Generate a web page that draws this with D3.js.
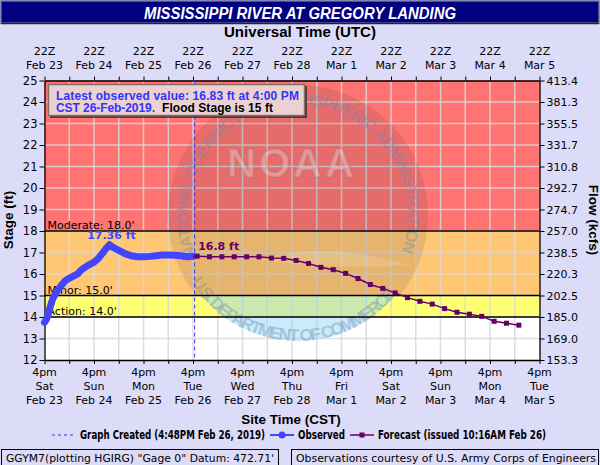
<!DOCTYPE html>
<html>
<head>
<meta charset="utf-8">
<script src="https://cdn.jsdelivr.net/npm/d3@7"></script>
<style>
  body { margin: 0; background: #dcdcf8; }
  svg { display: block; font-family: "DejaVu Sans", Verdana, sans-serif; }
</style>
</head>
<body>
<svg id="chart" width="600" height="465"></svg>
<script>
// observed stage (ft), CST
const obsTimes = [
  "2019-02-23 16:00", "2019-02-23 17:00", "2019-02-23 18:00", "2019-02-23 19:00", "2019-02-23 20:00",
  "2019-02-23 22:00", "2019-02-24 00:00", "2019-02-24 02:00", "2019-02-24 04:00", "2019-02-24 06:00",
  "2019-02-24 08:00", "2019-02-24 10:00", "2019-02-24 12:00", "2019-02-24 14:00", "2019-02-24 16:00",
  "2019-02-24 18:00", "2019-02-24 20:00", "2019-02-24 22:00", "2019-02-24 23:30", "2019-02-25 01:00",
  "2019-02-25 04:00", "2019-02-25 07:00", "2019-02-25 10:00", "2019-02-25 13:00", "2019-02-25 16:00",
  "2019-02-25 19:00", "2019-02-25 22:00", "2019-02-26 01:00", "2019-02-26 04:00", "2019-02-26 07:00",
  "2019-02-26 10:00", "2019-02-26 13:00", "2019-02-26 16:00"
];
const obsStage = [
  13.75, 13.9, 14.2, 14.55, 14.85,
  15.2, 15.45, 15.68, 15.8, 15.9,
  16.0, 16.2, 16.33, 16.45, 16.55,
  16.72, 16.95, 17.2, 17.36, 17.25,
  17.1, 16.95, 16.85, 16.8, 16.8,
  16.82, 16.85, 16.88, 16.88, 16.87,
  16.85, 16.8, 16.83
];

// forecast issued 10:16AM Feb 26
const fcstTimes = [
  "2019-02-26 18:00", "2019-02-27 00:00", "2019-02-27 06:00", "2019-02-27 12:00", "2019-02-27 18:00",
  "2019-02-28 00:00", "2019-02-28 06:00", "2019-02-28 12:00", "2019-02-28 18:00", "2019-03-01 00:00",
  "2019-03-01 06:00", "2019-03-01 12:00", "2019-03-01 18:00", "2019-03-02 00:00", "2019-03-02 06:00",
  "2019-03-02 12:00", "2019-03-02 18:00", "2019-03-03 00:00", "2019-03-03 06:00", "2019-03-03 12:00",
  "2019-03-03 18:00", "2019-03-04 00:00", "2019-03-04 06:00", "2019-03-04 12:00", "2019-03-04 18:00",
  "2019-03-05 00:00", "2019-03-05 06:00"
];
const fcstStage = [
  16.83, 16.8, 16.8, 16.8, 16.8,
  16.8, 16.74, 16.73, 16.63, 16.49,
  16.31, 16.2, 16.03, 15.79, 15.51,
  15.33, 15.12, 14.9, 14.73, 14.6,
  14.39, 14.22, 14.13, 14.03, 13.8,
  13.71, 13.62
];

const stageTicks = [12, 13, 14, 15, 16, 17, 18, 19, 20, 21, 22, 23, 24, 25];
const flowLabels = ["153.3", "169.0", "185.0", "202.5", "220.3", "238.5", "257.0",
                    "274.7", "292.7", "310.8", "331.7", "355.5", "381.3", "413.4"];

const dayTimes = ["2019-02-23 16:00", "2019-02-24 16:00", "2019-02-25 16:00", "2019-02-26 16:00",
  "2019-02-27 16:00", "2019-02-28 16:00", "2019-03-01 16:00", "2019-03-02 16:00",
  "2019-03-03 16:00", "2019-03-04 16:00", "2019-03-05 16:00"];
const dayNames = ["Sat", "Sun", "Mon", "Tue", "Wed", "Thu", "Fri", "Sat", "Sun", "Mon", "Tue"];
const dateLabels = ["Feb 23", "Feb 24", "Feb 25", "Feb 26", "Feb 27", "Feb 28",
                    "Mar 1", "Mar 2", "Mar 3", "Mar 4", "Mar 5"];

// flood categories: [name, from, to, colour]
const zones = [
  ["", 12, 14, "#ffffff"],
  ["Action", 14, 15, "#ffff73"],
  ["Minor", 15, 18, "#ffc673"],
  ["Moderate", 18, 25, "#ff7373"],
];

const parse = d3.timeParse("%Y-%m-%d %H:%M");
const obs = obsTimes.map((t, i) => [parse(t), obsStage[i]]);
const fcst = fcstTimes.map((t, i) => [parse(t), fcstStage[i]]);
const days = dayTimes.map(parse);
const created = parse("2019-02-26 16:48");

const svg = d3.select("#chart");
const L = 44.5, R = 539.5, T = 80.5, B = 360;
const boldFont = "Liberation Sans, Arial, sans-serif";

const x = d3.scaleTime().domain([days[0], days[days.length - 1]]).range([L, R]);
const y = d3.scaleLinear().domain([12, 25]).range([B, T]);

// 12 hour ticks (4pm / 4am)
const halfDays = d3.timeHour.every(1).range(days[0], d3.timeHour.offset(days[days.length - 1], 1))
  .filter(d => d.getHours() === 16 || d.getHours() === 4);

// title bar
svg.append("rect").attr("x", 1).attr("y", 1).attr("width", 598).attr("height", 22)
  .attr("fill", "#000080").attr("stroke", "#6a6a9a").attr("stroke-width", 1.5);
svg.append("line").attr("x1", 1).attr("x2", 599).attr("y1", 23.5).attr("y2", 23.5)
  .attr("stroke", "#202040").attr("stroke-width", 1.5);
svg.append("text").attr("x", 300).attr("y", 18.5).attr("text-anchor", "middle")
  .attr("fill", "#fff").attr("font-family", boldFont)
  .attr("font-weight", "bold").attr("font-style", "italic").attr("font-size", 16)
  .attr("textLength", 312).attr("lengthAdjust", "spacingAndGlyphs")
  .text("MISSISSIPPI RIVER AT GREGORY LANDING");

svg.append("text").attr("x", 300).attr("y", 37).attr("text-anchor", "middle")
  .attr("font-family", boldFont).attr("font-weight", "bold")
  .attr("font-size", 14).attr("textLength", 152).attr("lengthAdjust", "spacingAndGlyphs")
  .text("Universal Time (UTC)");

// flood zones
const plot = svg.append("g");
plot.selectAll("rect.zone").data(zones).join("rect").attr("class", "zone")
  .attr("x", L).attr("width", R - L)
  .attr("y", d => y(d[2])).attr("height", d => y(d[1]) - y(d[2]))
  .attr("fill", d => d[3]);

// grid
const grid = plot.append("g").attr("stroke", "#d8d8d8").attr("stroke-opacity", 0.85).attr("stroke-width", 1.5);
grid.selectAll("line.v").data(halfDays.slice(1, -1)).join("line").attr("class", "v")
  .attr("x1", d => x(d)).attr("x2", d => x(d)).attr("y1", T).attr("y2", B);
grid.selectAll("line.h").data(stageTicks.slice(1, -1)).join("line").attr("class", "h")
  .attr("x1", L).attr("x2", R).attr("y1", d => y(d)).attr("y2", d => y(d));

// NOAA watermark
const cx = 298, cy = 215, rr = 130;
const defs = svg.append("defs");
defs.append("clipPath").attr("id", "top").append("rect")
  .attr("x", 0).attr("y", 0).attr("width", 600).attr("height", y(15));
defs.append("clipPath").attr("id", "sea").append("rect")
  .attr("x", 0).attr("y", y(15)).attr("width", 600).attr("height", B - y(15));
const wm = plot.append("g");
wm.append("circle").attr("cx", cx).attr("cy", cy).attr("r", rr)
  .attr("fill", "#3a3a3a").attr("fill-opacity", 0.13).attr("clip-path", "url(#top)");
wm.append("circle").attr("cx", cx).attr("cy", cy).attr("r", rr - 4)
  .attr("fill", "#8ad2f2").attr("fill-opacity", 0.45).attr("clip-path", "url(#sea)");
// wing highlight
wm.append("path")
  .attr("d", `M${cx - 40},${cy + 45} Q${cx + 30},${cy + 25} ${cx + 110},${cy + 50} Q${cx + 40},${cy + 55} ${cx - 40},${cy + 45}Z`)
  .attr("fill", "#ffffff").attr("fill-opacity", 0.15);
const arc = (r, a0, a1, sweep) => {
  const rad = Math.PI / 180;
  const p0 = [cx + r * Math.cos(a0 * rad), cy + r * Math.sin(a0 * rad)];
  const p1 = [cx + r * Math.cos(a1 * rad), cy + r * Math.sin(a1 * rad)];
  const large = Math.abs(a1 - a0) > 180 ? 1 : 0;
  return `M${p0[0]},${p0[1]} A${r},${r} 0 ${large} ${sweep} ${p1[0]},${p1[1]}`;
};
defs.append("path").attr("id", "ringTop").attr("d", arc(110, 158, 388, 1));
defs.append("path").attr("id", "ringBot").attr("d", arc(126, 148, 32, 0));
const ring = wm.append("g").attr("font-family", boldFont)
  .attr("font-weight", "bold").attr("fill", "#6a88b0").attr("fill-opacity", 0.4);
ring.append("text").attr("font-size", 16).append("textPath").attr("href", "#ringTop")
  .attr("textLength", 425).attr("lengthAdjust", "spacing")
  .text("NATIONAL OCEANIC AND ATMOSPHERIC ADMINISTRATION");
ring.append("text").attr("font-size", 17).append("textPath").attr("href", "#ringBot")
  .attr("textLength", 240).attr("lengthAdjust", "spacing")
  .text("U.S. DEPARTMENT OF COMMERCE");
wm.append("text").attr("x", cx - 6).attr("y", cy - 38).attr("text-anchor", "middle")
  .attr("font-family", boldFont).attr("font-weight", "bold")
  .attr("font-size", 40).attr("letter-spacing", 3)
  .attr("fill", "#ffffff").attr("fill-opacity", 0.3)
  .attr("stroke", "#7a7a7a").attr("stroke-opacity", 0.25).attr("stroke-width", 2)
  .text("NOAA");

// flood category lines and labels
plot.selectAll("line.flood").data(zones.slice(1)).join("line").attr("class", "flood")
  .attr("x1", L).attr("x2", R).attr("y1", d => y(d[1])).attr("y2", d => y(d[1]))
  .attr("stroke", "#000").attr("stroke-width", 1.3);
plot.selectAll("text.flood").data(zones.slice(1)).join("text").attr("class", "flood")
  .attr("x", L + 3).attr("y", d => y(d[1]) - 2).attr("font-size", 11)
  .text(d => `${d[0]}: ${d[1].toFixed(1)}'`);

// axes: ticks from d3, labels placed as plain text
const dropText = g => g.selectAll("text").remove();
svg.append("g").attr("transform", `translate(0,${B})`)
  .call(d3.axisBottom(x).tickValues(halfDays).tickSize(4).tickSizeOuter(0)).call(dropText);
svg.append("g").attr("transform", `translate(0,${T})`)
  .call(d3.axisTop(x).tickValues(halfDays).tickSize(4).tickSizeOuter(0)).call(dropText);
svg.append("g").attr("transform", `translate(${L},0)`)
  .call(d3.axisLeft(y).tickValues(stageTicks).tickSize(5).tickSizeOuter(0)).call(dropText);
svg.append("g").attr("transform", `translate(${R},0)`)
  .call(d3.axisRight(y).tickValues(stageTicks).tickSize(5).tickSizeOuter(0)).call(dropText);
svg.selectAll(".domain").attr("stroke", "#000").attr("stroke-width", 1.3);

const yl = svg.append("g").attr("font-size", 11.5);
yl.selectAll("text.ls").data(stageTicks).join("text").attr("class", "ls")
  .attr("x", L - 7).attr("y", d => y(d) + 4).attr("text-anchor", "end").text(d => d);
yl.selectAll("text.rs").data(stageTicks).join("text").attr("class", "rs")
  .attr("font-size", 11).attr("x", R + 7).attr("y", d => y(d) + 4).text((d, i) => flowLabels[i]);

// day labels, bottom (CST) and top (UTC)
const labels = svg.append("g").attr("font-size", 11).attr("text-anchor", "middle");
days.forEach((d, i) => {
  labels.append("text").attr("x", x(d)).attr("y", 376).text("4pm");
  labels.append("text").attr("x", x(d)).attr("y", 390).text(dayNames[i]);
  labels.append("text").attr("x", x(d)).attr("y", 404).text(dateLabels[i]);
  labels.append("text").attr("x", x(d)).attr("y", 55).text("22Z");
  labels.append("text").attr("x", x(d)).attr("y", 69).text(dateLabels[i]);
});

svg.append("text").attr("x", 291).attr("y", 424).attr("text-anchor", "middle")
  .attr("font-family", boldFont).attr("font-weight", "bold")
  .attr("font-size", 13.5).text("Site Time (CST)");
svg.append("text").attr("transform", "translate(13,220) rotate(-90)").attr("text-anchor", "middle")
  .attr("font-family", boldFont).attr("font-weight", "bold")
  .attr("font-size", 13.5).text("Stage (ft)");
svg.append("text").attr("transform", "translate(589,220) rotate(90)").attr("text-anchor", "middle")
  .attr("font-family", boldFont).attr("font-weight", "bold")
  .attr("font-size", 13.5).text("Flow (kcfs)");

// graph created marker
svg.append("line").attr("x1", x(created)).attr("x2", x(created)).attr("y1", T).attr("y2", B)
  .attr("stroke", "#3333ff").attr("stroke-width", 1).attr("stroke-dasharray", "4,3");

// observed
const line = d3.line().x(d => x(d[0])).y(d => y(d[1]));
svg.append("path").datum(obs).attr("d", line).attr("fill", "none")
  .attr("stroke", "#4444ff").attr("stroke-width", 7)
  .attr("stroke-linejoin", "round").attr("stroke-linecap", "round");

// forecast
svg.append("path").datum([obs[obs.length - 1], ...fcst]).attr("d", line).attr("fill", "none")
  .attr("stroke", "#660066").attr("stroke-width", 1.5);
svg.selectAll("rect.fc").data(fcst).join("rect").attr("class", "fc")
  .attr("x", d => x(d[0]) - 2.5).attr("y", d => y(d[1]) - 2.5)
  .attr("width", 5).attr("height", 5).attr("fill", "#660066");

// crest and forecast labels
const crest = obs[d3.maxIndex(obs, d => d[1])];
svg.append("text").attr("x", x(crest[0]) + 2).attr("y", y(crest[1]) - 6).attr("text-anchor", "middle")
  .attr("font-weight", "bold").attr("font-size", 11).attr("fill", "#4444ff")
  .text(`${crest[1]} ft`);
svg.append("text").attr("x", x(fcst[0][0]) + 1).attr("y", y(fcst[0][1]) - 6)
  .attr("font-weight", "bold").attr("font-size", 11).attr("fill", "#660066")
  .text(`${fcst[1][1].toFixed(1)} ft`);

// latest value box
svg.append("rect").attr("x", 50).attr("y", 86).attr("width", 257).attr("height", 32)
  .attr("fill", "#402828").attr("fill-opacity", 0.8);
svg.append("rect").attr("x", 48.5).attr("y", 84.5).attr("width", 256).attr("height", 31)
  .attr("fill", "#ead2d2").attr("stroke", "#8a6a6a").attr("stroke-width", 1.5);
const info = svg.append("g").attr("font-family", boldFont)
  .attr("font-weight", "bold").attr("font-size", 12);
info.append("text").attr("x", 56).attr("y", 100).attr("fill", "#3333ff")
  .attr("textLength", 243).attr("lengthAdjust", "spacing")
  .text(`Latest observed value: ${obsStage[obsStage.length - 1]} ft at 4:00 PM`);
info.append("text").attr("x", 56).attr("y", 111.5).attr("fill", "#3333ff")
  .attr("textLength", 99).attr("lengthAdjust", "spacing").text("CST 26-Feb-2019.");
info.append("text").attr("x", 162).attr("y", 111.5).attr("fill", "#000")
  .attr("textLength", 111).attr("lengthAdjust", "spacing").text("Flood Stage is 15 ft");

// legend
const lg = svg.append("g").attr("font-family", "Liberation Sans Narrow, DejaVu Sans Condensed, sans-serif")
  .attr("font-weight", "bold").attr("font-size", 11.5);
const ly = 435;
lg.append("line").attr("x1", 52).attr("x2", 76).attr("y1", ly).attr("y2", ly)
  .attr("stroke", "#3333ff").attr("stroke-dasharray", "3,3");
lg.append("text").attr("x", 80).attr("y", ly + 4).attr("textLength", 185).attr("lengthAdjust", "spacingAndGlyphs")
  .text("Graph Created (4:48PM Feb 26, 2019)");
lg.append("line").attr("x1", 270).attr("x2", 294).attr("y1", ly).attr("y2", ly)
  .attr("stroke", "#4444ff").attr("stroke-width", 2);
lg.append("circle").attr("cx", 282).attr("cy", ly).attr("r", 3.5).attr("fill", "#4444ff");
lg.append("text").attr("x", 298).attr("y", ly + 4).attr("textLength", 47).attr("lengthAdjust", "spacingAndGlyphs")
  .text("Observed");
lg.append("line").attr("x1", 350).attr("x2", 374).attr("y1", ly).attr("y2", ly)
  .attr("stroke", "#660066").attr("stroke-width", 1.5);
lg.append("rect").attr("x", 359.5).attr("y", ly - 2.5).attr("width", 5).attr("height", 5).attr("fill", "#660066");
lg.append("text").attr("x", 378).attr("y", ly + 4).attr("textLength", 168).attr("lengthAdjust", "spacingAndGlyphs")
  .text("Forecast (issued 10:16AM Feb 26)");

// footer
const ft = svg.append("g").attr("font-size", 11);
ft.append("rect").attr("x", 1.5).attr("y", 449.5).attr("width", 277).attr("height", 20)
  .attr("fill", "none").attr("stroke", "#000");
ft.append("text").attr("x", 6).attr("y", 462).attr("textLength", 268).attr("lengthAdjust", "spacingAndGlyphs")
  .text(`GGYM7(plotting HGIRG) "Gage 0" Datum: 472.71'`);
ft.append("rect").attr("x", 291.5).attr("y", 449.5).attr("width", 307).attr("height", 20)
  .attr("fill", "none").attr("stroke", "#000");
ft.append("text").attr("x", 296).attr("y", 462).attr("textLength", 300).attr("lengthAdjust", "spacingAndGlyphs")
  .text("Observations courtesy of U.S. Army Corps of Engineers");
</script>
</body>
</html>
